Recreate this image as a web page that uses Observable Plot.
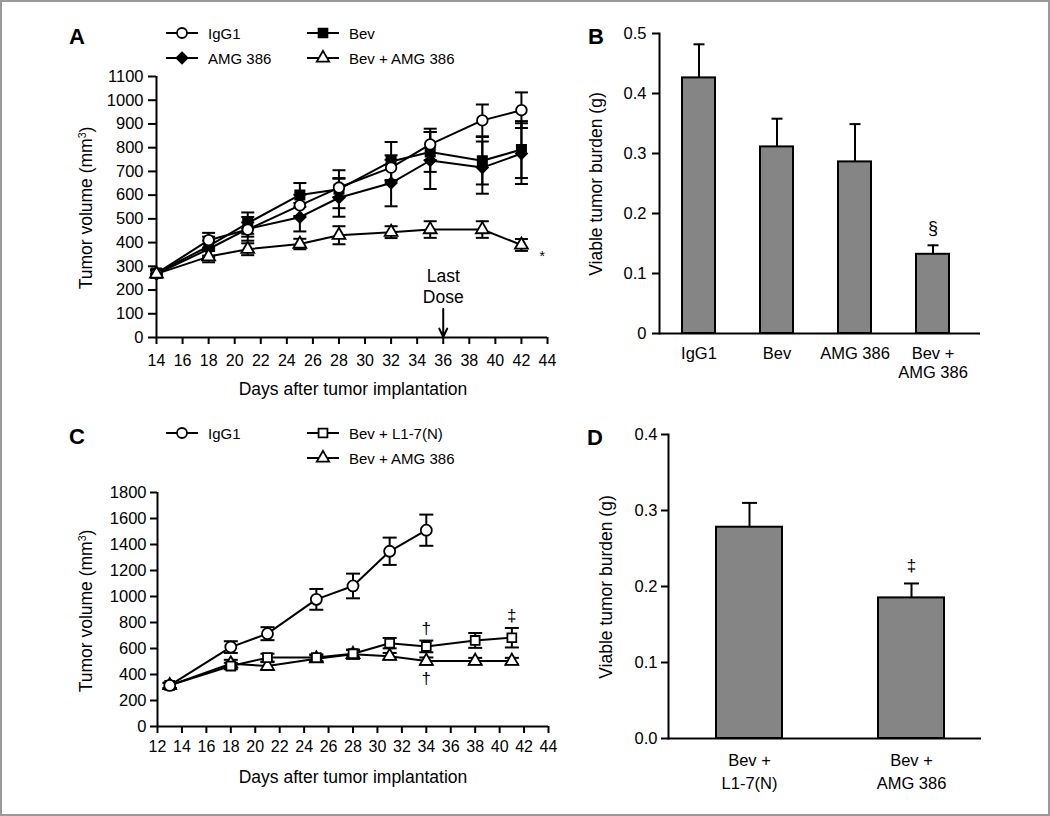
<!DOCTYPE html>
<html><head><meta charset="utf-8">
<script src="https://cdn.jsdelivr.net/npm/d3@7"></script>
<script src="https://cdn.jsdelivr.net/npm/@observablehq/plot@0.6"></script>
<style>
body{margin:0;background:#fff;}
#fig{position:relative;width:1050px;height:816px;overflow:hidden;font-family:'Liberation Sans',Arial,sans-serif;color:#000;background:#fff;}
.panel{position:absolute;}
.abs{position:absolute;white-space:nowrap;line-height:1;}
.letter{font-weight:bold;font-size:22px;transform:translate(-50%,-50%);}
.ytitle{font-size:17.5px;transform:translate(-50%,-50%) rotate(-90deg);}
.xtitle{font-size:17.5px;transform:translate(-50%,-50%);}
.leg{font-size:15px;display:flex;align-items:center;transform:translateY(-50%);}
.leg svg{margin-right:10px;overflow:visible;}
sup{font-size:0.6em;vertical-align:0.55em;line-height:0;}
#border{position:absolute;left:0;top:0;width:1050px;height:816px;box-sizing:border-box;border:2px solid #9a9a9a;pointer-events:none;}
</style></head>
<body>
<div id="fig"></div>
<script>
// ---------- Panel A data ----------
const daysA = [14, 18, 21, 25, 28, 32, 35, 39, 42];
const igg1A = [270, 410, 455, 557, 632, 716, 814, 915, 958];
const igg1ErrA = [15, 31, 30, 45, 40, 52, 66, 67, 75];
const bevA = [272, 385, 482, 601, 625, 742, 782, 745, 792];
const bevErrA = [15, 40, 45, 50, 80, 82, 84, 100, 120];
const amgA = [268, 373, 458, 507, 589, 651, 746, 716, 775];
const amgErrA = [15, 35, 50, 60, 80, 98, 120, 110, 128];
const bevAmgA = [268, 341, 372, 394, 431, 444, 455, 455, 390];
const bevAmgErrA = [15, 24, 25, 22, 38, 25, 35, 35, 25];
const xTicksA = [14, 16, 18, 20, 22, 24, 26, 28, 30, 32, 34, 36, 38, 40, 42, 44];
const yTicksA = [0, 100, 200, 300, 400, 500, 600, 700, 800, 900, 1000, 1100];
const notesA = [{day: 43.6, v: 341, text: "*"}];
const doseA = [{day: 36, v: 220, text: "Last\nDose", from: 120, to: 2}];

// ---------- Panel B data ----------
const catsB = ["IgG1", "Bev", "AMG 386", "Bev +\nAMG 386"];
const valsB = [0.426, 0.311, 0.286, 0.132];
const errsB = [0.056, 0.047, 0.063, 0.015];
const yTicksB = [0, 0.1, 0.2, 0.3, 0.4, 0.5];
const notesB = [{cat: "Bev +\nAMG 386", v: 0.1755, text: "§"}];

// ---------- Panel C data ----------
const daysC = [13, 18, 21, 25, 28, 31, 34, 38, 41];
const igg1C = [316, 611, 714, 978, 1081, 1348, 1510];
const igg1ErrC = [20, 45, 50, 80, 95, 105, 120];
const l17C = [316, 465, 530, 530, 560, 641, 616, 662, 683];
const l17ErrC = [20, 25, 30, 25, 30, 40, 45, 57, 75];
const bevAmgC = [316, 483, 465, 522, 555, 541, 503, 503, 503];
const bevAmgErrC = [20, 30, 30, 25, 35, 25, 28, 25, 25];
const xTicksC = [12, 14, 16, 18, 20, 22, 24, 26, 28, 30, 32, 34, 36, 38, 40, 42, 44];
const yTicksC = [0, 200, 400, 600, 800, 1000, 1200, 1400, 1600, 1800];
const notesC = [
  {day: 34, v: 752, text: "†"},
  {day: 34, v: 367, text: "†"},
  {day: 41, v: 855, text: "‡"}
];

// ---------- Panel D data ----------
const catsD = ["Bev +\nL1-7(N)", "Bev +\nAMG 386"];
const valsD = [0.278, 0.185];
const errsD = [0.032, 0.019];
const yTicksD = [0, 0.1, 0.2, 0.3, 0.4];
const notesD = [{cat: "Bev +\nAMG 386", v: 0.227, text: "‡"}];

// ---------- helpers ----------
const fig = document.getElementById("fig");
const svgStyle = {fontFamily: "'Liberation Sans', Arial, sans-serif", fontSize: "16.5px", background: "transparent", color: "black", overflow: "visible"};
const makeCap = (hw) => ({draw(ctx) { ctx.moveTo(-hw, 0); ctx.lineTo(hw, 0); }});
const d3Sym = {circle: d3.symbolCircle, square: d3.symbolSquare, diamond2: d3.symbolDiamond2, triangle: d3.symbolTriangle};

function rowsOf(days, vals, errs, name) {
  return vals.map((v, i) => ({series: name, day: days[i], v, lo: v - errs[i], hi: v + errs[i]}));
}

function seriesMarks(list, cap) {
  const marks = [];
  for (const s of list) {
    marks.push(Plot.ruleX(s.rows, {x: "day", y1: "lo", y2: "hi", stroke: "black", strokeWidth: 2}));
    marks.push(Plot.dot(s.rows, {x: "day", y: "lo", symbol: cap, stroke: "black", strokeWidth: 2, fill: "none"}));
    marks.push(Plot.dot(s.rows, {x: "day", y: "hi", symbol: cap, stroke: "black", strokeWidth: 2, fill: "none"}));
  }
  for (const s of list) {
    marks.push(Plot.line(s.rows, {x: "day", y: "v", stroke: "black", strokeWidth: 2}));
  }
  for (const s of list) {
    marks.push(Plot.dot(s.rows, {x: "day", y: "v", symbol: s.symbol, r: s.r, fill: s.fill, stroke: "black", strokeWidth: 1.8}));
  }
  return marks;
}

function place(el, left, top) {
  const d = document.createElement("div");
  d.className = "panel";
  d.style.left = left + "px";
  d.style.top = top + "px";
  d.appendChild(el);
  fig.appendChild(d);
}

function addText(cls, x, y, html) {
  const d = document.createElement("div");
  d.className = "abs " + cls;
  d.style.left = x + "px";
  d.style.top = y + "px";
  d.innerHTML = html;
  fig.appendChild(d);
}

function legendItem(x, y, sym, fill, r, text) {
  const size = Math.PI * r * r;
  const p = d3.symbol(d3Sym[sym], size)();
  addText("leg", x, y,
    `<svg width="32" height="16" viewBox="-16 -8 32 16"><line x1="-16" x2="16" y1="0" y2="0" stroke="black" stroke-width="2"/>` +
    `<path d="${p}" fill="${fill}" stroke="black" stroke-width="1.8"/></svg><span>${text}</span>`);
}

// ---------- Panel A ----------
const seriesA = [
  {rows: rowsOf(daysA, amgA, amgErrA, "AMG 386"), symbol: "diamond2", fill: "black", r: 5},
  {rows: rowsOf(daysA, bevA, bevErrA, "Bev"), symbol: "square", fill: "black", r: 5.2},
  {rows: rowsOf(daysA, igg1A, igg1ErrA, "IgG1"), symbol: "circle", fill: "white", r: 5.3},
  {rows: rowsOf(daysA, bevAmgA, bevAmgErrA, "Bev + AMG 386"), symbol: "triangle", fill: "white", r: 4.8}
];
const plotA = Plot.plot({
  width: 560, height: 400, marginLeft: 156, marginRight: 13, marginTop: 76, marginBottom: 63,
  style: svgStyle,
  x: {domain: [14, 44]},
  y: {domain: [0, 1100]},
  marks: [
    Plot.axisY({ticks: yTicksA, tickSize: 8, tickPadding: 5, strokeWidth: 2, label: null, tickFormat: d => String(d)}),
    Plot.axisX({ticks: xTicksA, tickSize: 7, tickPadding: 10, strokeWidth: 2, label: null, fontSize: 16, tickFormat: d => String(d)}),
    Plot.ruleX([14], {strokeWidth: 2}),
    Plot.ruleY([0], {strokeWidth: 2}),
    ...seriesMarks(seriesA, makeCap(6.5)),
    Plot.text(notesA, {x: "day", y: "v", text: "text", fontSize: 14}),
    Plot.text(doseA, {x: "day", y: "v", text: "text", fontSize: 17.5, lineHeight: 1.2}),
    Plot.arrow(doseA, {x1: "day", x2: "day", y1: "from", y2: "to", strokeWidth: 2, headLength: 10, headAngle: 50})
  ]
});
place(plotA, 0, 0);

// ---------- Panel B ----------
const dataB = catsB.map((c, i) => ({cat: c, v: valsB[i], hi: valsB[i] + errsB[i]}));
const plotB = Plot.plot({
  width: 490, height: 400, marginLeft: 99, marginRight: 70, marginTop: 33, marginBottom: 67,
  style: svgStyle,
  x: {domain: catsB, range: [99, 412], paddingInner: 0.58, paddingOuter: 0.29},
  y: {domain: [0, 0.5]},
  marks: [
    Plot.axisY({ticks: yTicksB, tickSize: 7, tickPadding: 6, strokeWidth: 2, label: null, tickFormat: d => d === 0 ? "0" : d.toFixed(1)}),
    Plot.axisX({tickSize: 0, tickPadding: 12, label: null, lineHeight: 1.15}),
    Plot.frame({anchor: "left", strokeWidth: 2}),
    Plot.barY(dataB, {x: "cat", y: "v", fill: "#858585", stroke: "black", strokeWidth: 2}),
    Plot.ruleX(dataB, {x: "cat", y1: "v", y2: "hi", strokeWidth: 2}),
    Plot.dot(dataB, {x: "cat", y: "hi", symbol: makeCap(5.5), stroke: "black", strokeWidth: 2, fill: "none"}),
    Plot.ruleY([0], {strokeWidth: 2}),
    Plot.text(notesB, {x: "cat", y: "v", text: "text", fontSize: 18})
  ]
});
place(plotB, 560, 0);

// ---------- Panel C ----------
const seriesC = [
  {rows: rowsOf(daysC, bevAmgC, bevAmgErrC, "Bev + AMG 386"), symbol: "triangle", fill: "white", r: 4.8},
  {rows: rowsOf(daysC, l17C, l17ErrC, "Bev + L1-7(N)"), symbol: "square", fill: "white", r: 5},
  {rows: rowsOf(daysC, igg1C, igg1ErrC, "IgG1"), symbol: "circle", fill: "white", r: 5.5}
];
const plotC = Plot.plot({
  width: 560, height: 400, marginLeft: 157, marginRight: 12, marginTop: 82, marginBottom: 84,
  style: svgStyle,
  x: {domain: [12, 44]},
  y: {domain: [0, 1800]},
  marks: [
    Plot.axisY({ticks: yTicksC, tickSize: 7, tickPadding: 4, strokeWidth: 2, label: null, tickFormat: d => String(d)}),
    Plot.axisX({ticks: xTicksC, tickSize: 7, tickPadding: 7, strokeWidth: 2, label: null, fontSize: 16, tickFormat: d => String(d)}),
    Plot.ruleX([12], {strokeWidth: 2}),
    Plot.ruleY([0], {strokeWidth: 2}),
    ...seriesMarks(seriesC, makeCap(7)),
    Plot.text(notesC, {x: "day", y: "v", text: "text", fontSize: 17})
  ]
});
place(plotC, 0, 410);

// ---------- Panel D ----------
const dataD = catsD.map((c, i) => ({cat: c, v: valsD[i], hi: valsD[i] + errsD[i]}));
const plotD = Plot.plot({
  width: 490, height: 400, marginLeft: 108, marginRight: 69, marginTop: 24, marginBottom: 72,
  style: svgStyle,
  x: {domain: catsD, range: [107.5, 432], paddingInner: 0.593, paddingOuter: 0.297},
  y: {domain: [0, 0.4]},
  marks: [
    Plot.axisY({ticks: yTicksD, tickSize: 7, tickPadding: 4, strokeWidth: 2, label: null, tickFormat: d => d.toFixed(1)}),
    Plot.axisX({tickSize: 0, tickPadding: 12, label: null, lineHeight: 1.35}),
    Plot.frame({anchor: "left", strokeWidth: 2}),
    Plot.barY(dataD, {x: "cat", y: "v", fill: "#858585", stroke: "black", strokeWidth: 2}),
    Plot.ruleX(dataD, {x: "cat", y1: "v", y2: "hi", strokeWidth: 2}),
    Plot.dot(dataD, {x: "cat", y: "hi", symbol: makeCap(7.5), stroke: "black", strokeWidth: 2, fill: "none"}),
    Plot.ruleY([0], {strokeWidth: 2}),
    Plot.text(notesD, {x: "cat", y: "v", text: "text", fontSize: 17})
  ]
});
place(plotD, 560, 410);

// ---------- Text ----------
addText("letter", 77, 37, "A");
addText("letter", 596, 37, "B");
addText("letter", 77, 437, "C");
addText("letter", 595, 438, "D");
addText("ytitle", 87, 208, "Tumor volume (mm<sup>3</sup>)");
addText("ytitle", 87, 611, "Tumor volume (mm<sup>3</sup>)");
addText("ytitle", 597, 184, "Viable tumor burden (g)");
addText("ytitle", 607, 587, "Viable tumor burden (g)");
addText("xtitle", 353, 390, "Days after tumor implantation");
addText("xtitle", 353, 778, "Days after tumor implantation");

legendItem(166, 33, "circle", "white", 5, "IgG1");
legendItem(307, 33, "square", "black", 5, "Bev");
legendItem(166, 58, "diamond2", "black", 5, "AMG 386");
legendItem(307, 58, "triangle", "white", 4.6, "Bev + AMG 386");

legendItem(166, 433, "circle", "white", 5, "IgG1");
legendItem(307, 433, "square", "white", 5, "Bev + L1-7(N)");
legendItem(307, 458, "triangle", "white", 4.6, "Bev + AMG 386");

const b = document.createElement("div"); b.id = "border"; fig.appendChild(b);
</script>
</body></html>
